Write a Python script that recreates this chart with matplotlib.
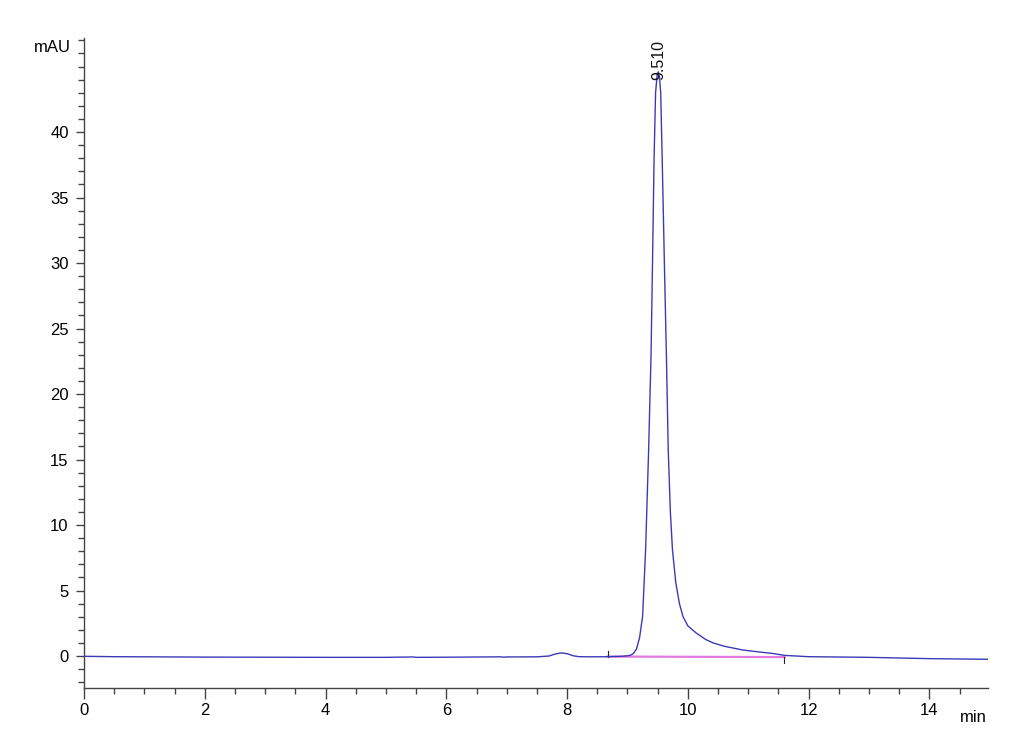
import matplotlib
matplotlib.use("Agg")
import matplotlib.pyplot as plt
from matplotlib.ticker import MultipleLocator, FixedLocator

plt.rcParams['font.family'] = ['Liberation Sans', 'DejaVu Sans']

# Chromatogram trace (time in min, signal in mAU)
time_min = [0.0, 0.5, 1.0, 2.0, 3.0, 4.0, 5.0, 5.45, 5.5, 6.0, 6.9, 6.95, 7.0, 7.5,
            7.7, 7.8, 7.9, 8.0, 8.1, 8.2, 8.4, 8.7, 8.9, 9.0, 9.05, 9.1, 9.15,
            9.2, 9.25, 9.3, 9.35, 9.39, 9.415, 9.44, 9.465, 9.49, 9.51, 9.53,
            9.55, 9.575, 9.61, 9.645, 9.675, 9.71, 9.745, 9.8, 9.86, 9.92,
            10.0, 10.14, 10.3, 10.42, 10.6, 10.91, 11.2, 11.4, 11.6, 12.0,
            13.0, 14.0, 15.0]
signal_mau = [-0.02, -0.05, -0.06, -0.08, -0.09, -0.1, -0.1, -0.07, -0.1, -0.09,
              -0.06, -0.09, -0.07, -0.06,
              0.0, 0.15, 0.24, 0.18, 0.02, -0.05, -0.06, -0.05, -0.02, 0.02, 0.06, 0.2, 0.55,
              1.4, 3.0, 8.1, 15.7, 23.0, 30.2, 37.9, 43.0, 44.3, 44.6, 44.2,
              43.0, 37.9, 30.2, 22.8, 15.7, 11.0, 8.1, 5.6, 4.0, 3.0,
              2.3, 1.75, 1.25, 1.0, 0.75, 0.46, 0.3, 0.2, 0.05, -0.05,
              -0.1, -0.2, -0.25]

# Integration baseline
baseline_t = [8.67, 11.6]
baseline_v = [-0.04, -0.08]

peak_rt = 9.51
peak_label = "9.510"
peak_top = 44.0

y_major = [0, 5, 10, 15, 20, 25, 30, 35, 40]

fig = plt.figure(figsize=(10.3, 7.55), dpi=100)
ax = fig.add_axes([84/1030, 1-688/755, (988-84)/1030, (688-38)/755])

ax.plot(time_min, signal_mau, color='#3a3ab8', lw=1.0, zorder=3)
ax.plot(baseline_t, baseline_v, color='#e27ae2', lw=1.6, zorder=2)
# integration event markers
ax.plot([baseline_t[0], baseline_t[0]], [baseline_v[0], baseline_v[0] + 0.45], color='#222222', lw=0.8)
ax.plot([baseline_t[1], baseline_t[1]], [baseline_v[1], baseline_v[1] - 0.45], color='#222222', lw=0.8)

ax.text(peak_rt, peak_top, peak_label, rotation=90, ha='center', va='bottom',
        fontsize=11.5, color='#111111')

ax.set_xlim(0, 14.97)
ax.set_ylim(-2.44, 47.18)

ax.spines['top'].set_visible(False)
ax.spines['right'].set_visible(False)
for s in ('left', 'bottom'):
    ax.spines[s].set_color('#444444')
    ax.spines[s].set_linewidth(1.0)

ax.xaxis.set_major_locator(MultipleLocator(2))
ax.xaxis.set_minor_locator(MultipleLocator(0.5))
ax.yaxis.set_major_locator(FixedLocator(y_major))
ax.yaxis.set_minor_locator(MultipleLocator(1))

ax.tick_params(axis='x', which='major', length=8, width=1, color='#444444', labelsize=12, pad=3)
ax.tick_params(axis='x', which='minor', length=4, width=1, color='#444444')
ax.tick_params(axis='y', which='major', length=6, width=1, color='#444444', labelsize=12, pad=5)
ax.tick_params(axis='y', which='minor', length=4, width=1, color='#444444')

ax.text(-0.014, 0.985, "mAU", transform=ax.transAxes, ha='right', va='center', fontsize=12)
ax.text(0.999, -0.045, "min", transform=ax.transAxes, ha='right', va='center', fontsize=12)

fig.savefig("out.png", dpi=100)
